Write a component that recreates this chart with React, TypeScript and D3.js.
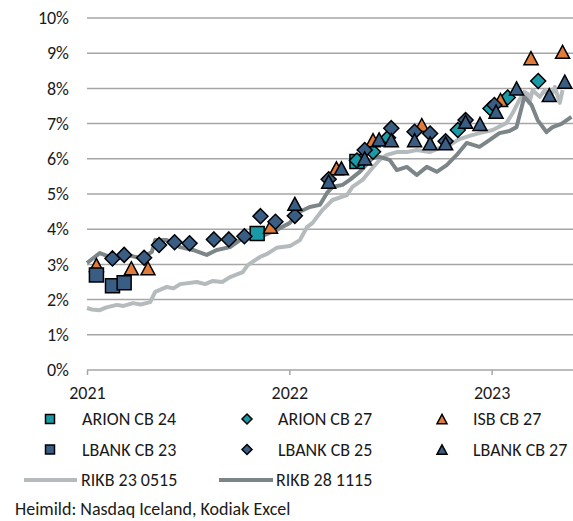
import React, { useEffect, useRef } from 'react';
import { select, scaleLinear, scaleTime, line, timeParse, timeFormat, axisLeft, axisBottom } from 'd3';

type Point = [string, number]

const yTicks = [0, 1, 2, 3, 4, 5, 6, 7, 8, 9, 10]
const yearTicks = ['2021-01-01', '2022-01-01', '2023-01-01']

const arionCb24: Point[] = [
  ['2021-11-04', 3.88], ['2022-05-03', 5.92],
]
const arionCb27: Point[] = [
  ['2022-05-03', 5.95], ['2022-06-01', 6.2], ['2022-06-28', 6.6], ['2022-11-01', 6.82],
  ['2022-12-30', 7.43], ['2023-01-30', 7.74], ['2023-03-26', 8.21],
]
const isbCb27: Point[] = [
  ['2021-01-18', 2.98], ['2021-03-22', 2.89], ['2021-04-21', 2.89], ['2021-11-28', 4.07],
  ['2022-03-27', 5.73], ['2022-06-01', 6.53], ['2022-08-28', 6.96], ['2023-01-17', 7.67],
  ['2023-03-13', 8.86], ['2023-05-09', 9.04],
]
const lbankCb23: Point[] = [
  ['2021-01-18', 2.7], ['2021-02-16', 2.39], ['2021-03-09', 2.48],
]
const lbankCb25: Point[] = [
  ['2021-02-16', 3.17], ['2021-03-09', 3.27], ['2021-04-14', 3.19], ['2021-05-11', 3.55],
  ['2021-06-08', 3.63], ['2021-07-05', 3.6], ['2021-08-18', 3.71], ['2021-09-14', 3.71],
  ['2021-10-12', 3.8], ['2021-11-10', 4.37], ['2021-12-07', 4.21], ['2022-01-11', 4.38],
  ['2022-03-13', 5.42], ['2022-05-17', 6.25], ['2022-07-04', 6.87], ['2022-08-15', 6.77],
  ['2022-09-12', 6.72], ['2022-10-10', 6.5], ['2022-11-15', 7.1], ['2023-01-06', 7.53],
]
const lbankCb27: Point[] = [
  ['2022-01-11', 4.72], ['2022-03-13', 5.35], ['2022-04-05', 5.73], ['2022-05-17', 6.01],
  ['2022-06-12', 6.55], ['2022-07-04', 6.53], ['2022-08-15', 6.53], ['2022-09-12', 6.44],
  ['2022-10-10', 6.44], ['2022-11-15', 7.05], ['2022-12-11', 6.99], ['2023-01-09', 7.34],
  ['2023-02-15', 8.0], ['2023-04-15', 7.81], ['2023-05-13', 8.19],
]
const rikb230515: Point[] = [
  ['2021-01-01', 1.76], ['2021-01-10', 1.72], ['2021-01-24', 1.7], ['2021-02-05', 1.78],
  ['2021-02-24', 1.85], ['2021-03-08', 1.82], ['2021-03-25', 1.9], ['2021-04-08', 1.86],
  ['2021-04-25', 1.93], ['2021-05-04', 2.22], ['2021-05-25', 2.36], ['2021-06-06', 2.32],
  ['2021-06-18', 2.44], ['2021-07-18', 2.5], ['2021-08-02', 2.44], ['2021-08-16', 2.53],
  ['2021-09-02', 2.5], ['2021-09-16', 2.64], ['2021-10-09', 2.78], ['2021-10-18', 2.98],
  ['2021-11-09', 3.21], ['2021-11-22', 3.3], ['2021-12-09', 3.47], ['2022-01-02', 3.52],
  ['2022-01-20', 3.69], ['2022-02-02', 4.06], ['2022-02-12', 4.18], ['2022-03-02', 4.55],
  ['2022-03-20', 4.83], ['2022-04-15', 4.97], ['2022-04-25', 5.2], ['2022-05-13', 5.4],
  ['2022-05-31', 5.74], ['2022-06-13', 5.97], ['2022-06-26', 6.11], ['2022-07-14', 6.19],
  ['2022-08-01', 6.19], ['2022-08-19', 6.25], ['2022-09-11', 6.19], ['2022-09-29', 6.31],
  ['2022-10-17', 6.39], ['2022-11-04', 6.56], ['2022-11-22', 6.65], ['2022-12-10', 6.73],
  ['2023-01-03', 6.82], ['2023-01-28', 7.02], ['2023-02-08', 7.3], ['2023-02-20', 7.67],
  ['2023-03-01', 7.9], ['2023-03-07', 7.84], ['2023-03-10', 7.59], ['2023-03-16', 7.95],
  ['2023-03-29', 7.76], ['2023-04-07', 7.95], ['2023-04-16', 7.67], ['2023-04-25', 8.04],
  ['2023-05-04', 7.59], ['2023-05-09', 7.95],
]
const rikb281115: Point[] = [
  ['2021-01-01', 3.04], ['2021-01-24', 3.32], ['2021-02-17', 3.18], ['2021-03-14', 3.27],
  ['2021-04-07', 3.18], ['2021-04-28', 3.35], ['2021-05-04', 3.69], ['2021-05-25', 3.69],
  ['2021-06-18', 3.49], ['2021-07-11', 3.41], ['2021-08-05', 3.27], ['2021-08-23', 3.41],
  ['2021-09-16', 3.49], ['2021-10-04', 3.69], ['2021-10-18', 3.78], ['2021-11-09', 3.78],
  ['2021-12-09', 3.98], ['2022-01-02', 4.18], ['2022-01-15', 4.46], ['2022-02-07', 4.63],
  ['2022-02-25', 4.69], ['2022-03-10', 5.03], ['2022-03-20', 5.2], ['2022-04-07', 5.26],
  ['2022-04-20', 5.4], ['2022-05-08', 5.63], ['2022-05-21', 5.85], ['2022-05-31', 6.02],
  ['2022-06-13', 6.05], ['2022-07-01', 5.97], ['2022-07-14', 5.68], ['2022-08-01', 5.77],
  ['2022-08-19', 5.54], ['2022-09-06', 5.77], ['2022-09-24', 5.63], ['2022-10-12', 5.82],
  ['2022-10-30', 6.11], ['2022-11-17', 6.45], ['2022-12-10', 6.34], ['2022-12-28', 6.53],
  ['2023-01-15', 6.73], ['2023-02-02', 6.79], ['2023-02-15', 6.9], ['2023-02-22', 7.33],
  ['2023-03-01', 7.76], ['2023-03-14', 7.53], ['2023-03-25', 7.1], ['2023-04-10', 6.76],
  ['2023-04-21', 6.9], ['2023-05-07', 6.99], ['2023-05-25', 7.19],
]

const TEAL = '#1a9aa6'
const NAVY = '#3a5d84'
const ORANGE = '#e07b39'
const LIGHT = '#b5babc'
const DARK = '#7c8588'
const FONT = 'Calibri, Carlito, "Liberation Sans", Arial, sans-serif'
const FONT_SIZE = 18

const dims = {
  width: 573,
  height: 521,
  left: 87,
  right: 572,
  top: 18,
  bottom: 370,
}

type Shape = 'square' | 'diamond' | 'triangle'

function shapePath(shape: Shape, s: number) {
  const h = s / 2
  if (shape === 'square') return `M${-h},${-h}H${h}V${h}H${-h}Z`
  if (shape === 'diamond') return `M0,${-h}L${h},0L0,${h}L${-h},0Z`
  return `M0,${-h * 0.93}L${h},${h * 0.93}L${-h},${h * 0.93}Z`
}

const markerSeries: { name: string, data: Point[], shape: Shape, color: string }[] = [
  { name: 'ARION CB 24', data: arionCb24, shape: 'square', color: TEAL },
  { name: 'ARION CB 27', data: arionCb27, shape: 'diamond', color: TEAL },
  { name: 'ISB CB 27', data: isbCb27, shape: 'triangle', color: ORANGE },
  { name: 'LBANK CB 23', data: lbankCb23, shape: 'square', color: NAVY },
  { name: 'LBANK CB 25', data: lbankCb25, shape: 'diamond', color: NAVY },
  { name: 'LBANK CB 27', data: lbankCb27, shape: 'triangle', color: NAVY },
]
const lineSeries = [
  { name: 'RIKB 23 0515', data: rikb230515, color: LIGHT },
  { name: 'RIKB 28 1115', data: rikb281115, color: DARK },
]

const bigSize: Record<Shape, number> = { square: 14, diamond: 15, triangle: 14 }
const smallSize: Record<Shape, number> = { square: 9, diamond: 10, triangle: 10 }

function App() {
  const svgRef = useRef<SVGSVGElement | null>(null)

  useEffect(() => {
    const svg = select(svgRef.current)
    svg.selectAll('*').remove()
    const parse = timeParse('%Y-%m-%d')

    const x = scaleTime()
      .domain([parse('2021-01-01')!, parse('2023-05-26')!])
      .range([dims.left, dims.right])
    const y = scaleLinear().domain([0, 10]).range([dims.bottom, dims.top])

    // gridlines
    svg.append('g')
      .selectAll('line')
      .data(yTicks.slice(1))
      .enter()
      .append('line')
      .attr('x1', dims.left)
      .attr('x2', dims.width)
      .attr('y1', d => y(d))
      .attr('y2', d => y(d))
      .attr('stroke', '#a6a6a6')
      .attr('stroke-width', 1.5)

    const yAxisG = svg.append('g')
      .attr('transform', `translate(${dims.left},0)`)
      .call(axisLeft(y).tickValues(yTicks).tickSize(0).tickPadding(18).tickFormat(d => `${d}%`))
    yAxisG.select('.domain').remove()
    yAxisG.selectAll('text').attr('font-size', FONT_SIZE).attr('font-family', FONT).attr('fill', '#1a1a1a')

    const xAxisG = svg.append('g')
      .attr('transform', `translate(0,${dims.bottom})`)
      .call(axisBottom(x)
        .tickValues(yearTicks.map(d => parse(d)!))
        .tickSizeInner(5)
        .tickSizeOuter(0)
        .tickPadding(11)
        .tickFormat(d => timeFormat('%Y')(d as Date)))
    xAxisG.select('.domain').attr('stroke', '#a6a6a6').attr('stroke-width', 1.5)
      .attr('d', `M${dims.left},0H${dims.width}`)
    xAxisG.selectAll('.tick line').attr('stroke', '#a6a6a6').attr('stroke-width', 1.5)
    xAxisG.selectAll('text').attr('font-size', FONT_SIZE).attr('font-family', FONT).attr('fill', '#1a1a1a')

    // yield lines
    const path = line<Point>().x(d => x(parse(d[0])!)).y(d => y(d[1]))
    lineSeries.forEach(s => {
      svg.append('path')
        .datum(s.data)
        .attr('d', path)
        .attr('fill', 'none')
        .attr('stroke', s.color)
        .attr('stroke-width', 4)
        .attr('stroke-linejoin', 'round')
    })

    // covered bond markers
    markerSeries.forEach(s => {
      svg.append('g')
        .selectAll('path')
        .data(s.data)
        .enter()
        .append('path')
        .attr('transform', d => `translate(${x(parse(d[0])!)},${y(d[1])})`)
        .attr('d', shapePath(s.shape, bigSize[s.shape]))
        .attr('fill', s.color)
        .attr('stroke', '#000')
        .attr('stroke-width', 1.5)
        .attr('stroke-linejoin', 'miter')
    })

    // legend
    const legend = svg.append('g').attr('font-family', FONT).attr('font-size', FONT_SIZE).attr('fill', '#1a1a1a')
    const colX = [50, 247, 442]
    const textX = [82, 278, 473]
    const rowY = [419, 449.5]
    markerSeries.forEach((s, i) => {
      const col = i % 3
      const row = Math.floor(i / 3)
      legend.append('path')
        .attr('transform', `translate(${colX[col]},${rowY[row]})`)
        .attr('d', shapePath(s.shape, smallSize[s.shape]))
        .attr('fill', s.color)
        .attr('stroke', '#000')
        .attr('stroke-width', 1.5)
      legend.append('text')
        .attr('x', textX[col])
        .attr('y', rowY[row])
        .attr('dy', '0.35em')
        .text(s.name)
    })
    const lineX = [[24, 77, 81], [219, 273, 276]]
    lineSeries.forEach((s, i) => {
      legend.append('line')
        .attr('x1', lineX[i][0]).attr('x2', lineX[i][1])
        .attr('y1', 480).attr('y2', 480)
        .attr('stroke', s.color)
        .attr('stroke-width', 4)
      legend.append('text')
        .attr('x', lineX[i][2])
        .attr('y', 480)
        .attr('dy', '0.35em')
        .text(s.name)
    })
    legend.append('text')
      .attr('x', 15)
      .attr('y', 509)
      .attr('dy', '0.35em')
      .text('Heimild: Nasdaq Iceland, Kodiak Excel')
  }, [])

  return (
    <div style={{ position: 'absolute', left: 0, top: 0 }}>
      <svg ref={svgRef} width={dims.width} height={dims.height} style={{ display: 'block', background: '#fff' }} />
    </div>
  );
}

export default App;
